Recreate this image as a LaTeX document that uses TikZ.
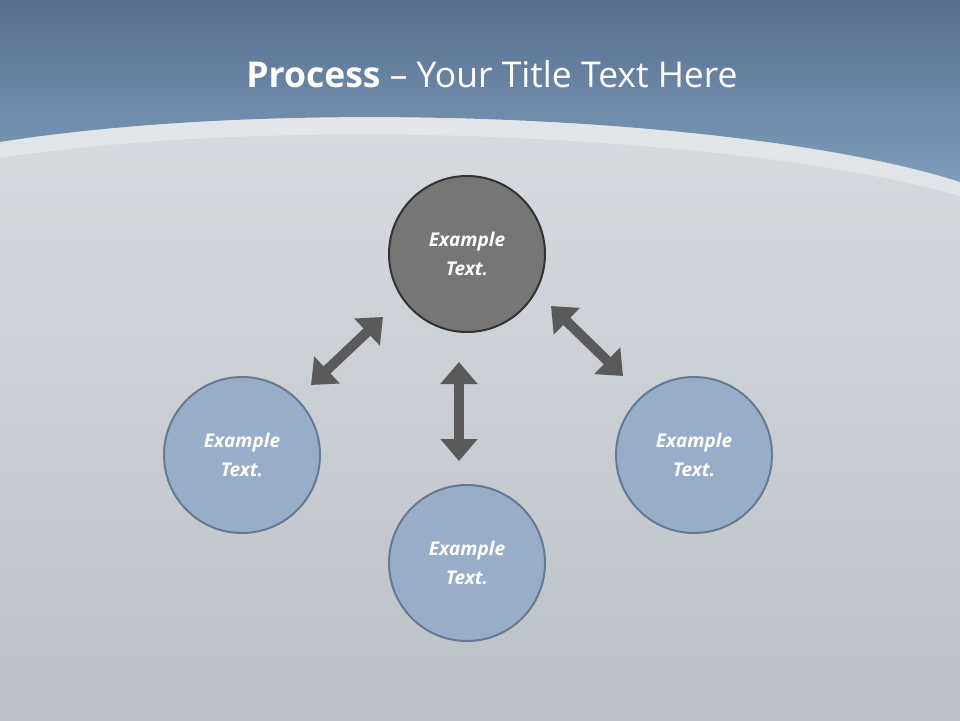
\documentclass[tikz,border=0pt]{standalone}
\usepackage{fontspec}
\setmainfont{Open Sans}
\usetikzlibrary{arrows.meta}
\definecolor{bgtop}{HTML}{DCE0E5}
\definecolor{bgbot}{HTML}{BCC1C7}
\definecolor{hdtop}{HTML}{566F8E}
\definecolor{hdbot}{HTML}{7F9CBC}
\definecolor{bluefill}{HTML}{98AEC8}
\definecolor{bluedraw}{HTML}{667A92}
\definecolor{grayfill}{HTML}{767676}
\definecolor{arrowgray}{HTML}{5A5A5A}
\tikzset{
  bubble/.style={circle,minimum size=156pt,line width=2pt,draw=bluedraw,fill=bluefill,
    text=white,font=\bfseries\itshape\fontsize{19}{29}\selectfont,align=center,inner sep=0pt},
  hub/.style={bubble,fill=grayfill,draw=black!80},
  dblarrow/.style={draw=arrowgray,line width=10pt,
    {Triangle[width=36pt,length=22pt]}-{Triangle[width=36pt,length=22pt]}}
}
\begin{document}
\begin{tikzpicture}[x=1pt,y=-1pt]
\useasboundingbox (0,0) rectangle (960,720);
\shade[top color=bgtop,bottom color=bgbot] (0,0) rectangle (960,720);
% header
\shade[top color=hdtop,bottom color=hdbot] (0,0) -- (960,0) -- (960,182)
  .. controls (760,118) and (300,95) .. (0,142) -- cycle;
\fill[white,opacity=0.3] (0,142) .. controls (300,95) and (760,118) .. (960,182)
  -- (960,196) .. controls (760,138) and (300,112) .. (0,158) -- cycle;
\node[text=white,font=\fontsize{35.5}{40}\selectfont] (title) at (492,74)
  {\textbf{Process} – Your Title Text Here};
% circles
\node[hub] (c) at (467,254) {Example\\Text.};
\node[bubble] (l) at (242,455) {Example\\Text.};
\node[bubble] (b) at (467,563) {Example\\Text.};
\node[bubble] (r) at (694,455) {Example\\Text.};
% arrows
\coordinate (a1) at (311,385); \coordinate (a2) at (383,317);
\coordinate (m1) at (459,362); \coordinate (m2) at (459,461);
\coordinate (r1) at (551,306); \coordinate (r2) at (623,376);
\draw[dblarrow] (a1) -- (a2);
\draw[dblarrow] (m1) -- (m2);
\draw[dblarrow] (r1) -- (r2);
\end{tikzpicture}
\end{document}
